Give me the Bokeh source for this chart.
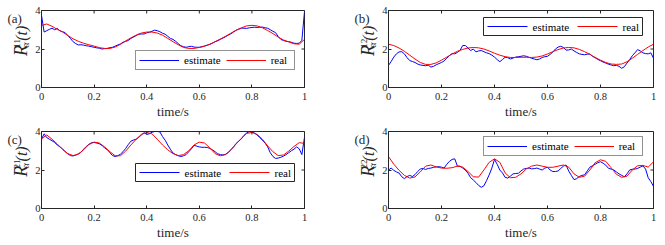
import math
from bokeh.plotting import figure
from bokeh.models import Range1d, FixedTicker, Legend, LegendItem
from bokeh.core.properties import value
from bokeh.layouts import column, row
from bokeh.embed import file_html
from bokeh.resources import INLINE

# ---------------- data ----------------
t_est = [round(i * 0.01, 2) for i in range(101)]
t_real = [round(i * 0.02, 2) for i in range(51)]

x_ticks = [0, 0.2, 0.4, 0.6, 0.8, 1]
x_tick_labels = {0: "0", 0.2: "0.2", 0.4: "0.4", 0.6: "0.6", 0.8: "0.8", 1: "1"}
y_ticks = [0, 2, 4]

est_11 = [3.75, 2.88, 2.95, 3.02, 3.08, 3.0, 3.07, 2.95, 2.9, 2.85,
          2.7, 2.55, 2.38, 2.28, 2.21, 2.22, 2.2, 2.17, 2.15, 2.12,
          2.09, 2.06, 2.04, 2.0, 2.02, 2.03, 2.07, 2.09, 2.15, 2.21,
          2.26, 2.35, 2.4, 2.44, 2.55, 2.62, 2.7, 2.77, 2.78, 2.78,
          2.84, 2.87, 2.92, 2.98, 2.95, 2.9, 2.82, 2.77, 2.66, 2.55,
          2.5, 2.4, 2.28, 2.17, 2.12, 2.09, 2.12, 2.14, 2.1, 2.09,
          2.09, 2.12, 2.16, 2.2, 2.24, 2.3, 2.38, 2.43, 2.5, 2.57,
          2.64, 2.72, 2.79, 2.88, 2.97, 3.03, 3.08, 3.08, 3.07, 3.1,
          3.12, 3.13, 3.12, 3.13, 3.14, 3.1, 3.08, 3.0, 2.92, 2.85,
          2.65, 2.5, 2.44, 2.4, 2.38, 2.35, 2.3, 2.29, 2.3, 2.45,
          3.95]
real_11 = [3.22, 3.3, 3.18, 3.02, 2.88, 2.7, 2.53, 2.4, 2.3, 2.22,
           2.15, 2.07, 2.03, 2.03, 2.1, 2.24, 2.42, 2.58, 2.72, 2.83,
           2.88, 2.88, 2.83, 2.72, 2.55, 2.38, 2.22, 2.08, 2.03, 2.03,
           2.08, 2.14, 2.25, 2.38, 2.52, 2.66, 2.82, 2.98, 3.1, 3.2,
           3.23, 3.2, 3.1, 2.96, 2.8, 2.62, 2.47, 2.37, 2.27, 2.25,
           2.5]

est_12 = [1.15, 1.35, 1.58, 1.75, 1.85, 1.86, 1.75, 1.55, 1.4, 1.35,
          1.3, 1.22, 1.17, 1.15, 1.13, 1.16, 1.06, 1.1, 1.18, 1.24,
          1.3, 1.38, 1.52, 1.66, 1.76, 1.75, 1.82, 1.93, 2.18, 2.18,
          2.05, 1.92, 2.0, 1.85, 1.9, 1.92, 1.86, 1.8, 1.76, 1.68,
          1.58, 1.45, 1.34, 1.45, 1.57, 1.55, 1.48, 1.53, 1.58, 1.6,
          1.62, 1.65, 1.62, 1.57, 1.52, 1.48, 1.44, 1.48, 1.56, 1.6,
          1.62, 1.72, 1.84, 2.0, 2.1, 2.14, 2.08, 1.94, 1.95, 2.0,
          1.9, 1.82, 1.75, 1.72, 1.7, 1.73, 1.74, 1.62, 1.54, 1.46,
          1.39, 1.32, 1.27, 1.21, 1.17, 1.13, 1.15, 1.1, 1.0, 1.08,
          1.27, 1.45, 1.65, 1.8, 1.97, 1.9, 1.8, 1.76, 1.75, 1.8,
          1.52]
real_12 = [2.25, 2.18, 2.05, 1.88, 1.68, 1.48, 1.3, 1.2, 1.2, 1.28,
           1.42, 1.58, 1.74, 1.88, 1.98, 2.05, 2.08, 2.06, 2.0, 1.9,
           1.78, 1.68, 1.6, 1.56, 1.56, 1.57, 1.57, 1.56, 1.58, 1.64,
           1.74, 1.86, 1.97, 2.05, 2.08, 2.06, 1.98, 1.86, 1.72, 1.56,
           1.42, 1.3, 1.22, 1.2, 1.22, 1.34, 1.52, 1.72, 1.92, 2.1,
           2.25]

est_21 = [3.6, 3.88, 3.68, 3.6, 3.52, 3.43, 3.3, 3.2, 3.1, 2.95,
          2.84, 2.75, 2.73, 2.77, 2.84, 2.92, 3.08, 3.22, 3.33, 3.42,
          3.43, 3.4, 3.36, 3.28, 3.14, 3.06, 2.9, 2.75, 2.7, 2.74,
          2.82, 2.95, 3.12, 3.32, 3.5, 3.56, 3.6, 3.7, 3.82, 3.94,
          3.85, 3.88, 3.96, 4.0, 4.0, 3.98, 3.74, 3.55, 3.3, 3.08,
          2.88, 2.8, 2.74, 2.7, 2.74, 2.8, 2.95, 3.1, 3.28, 3.24,
          3.2, 3.18, 3.18, 3.17, 3.12, 3.05, 2.95, 2.84, 2.8, 2.78,
          2.82, 2.9, 3.05, 3.2, 3.38, 3.5, 3.62, 3.8, 3.92, 4.0,
          3.97, 3.92, 3.82, 3.68, 3.55, 3.4, 3.2, 2.9, 2.7, 2.6,
          2.62, 2.66, 2.72, 2.8, 2.9, 3.0, 3.08, 3.2, 3.1, 2.8,
          3.7]
real_21 = [3.62, 3.82, 3.6, 3.35, 3.07, 2.85, 2.75, 2.82, 3.05, 3.32,
           3.45, 3.4, 3.2, 2.95, 2.74, 2.74, 2.98, 3.3, 3.6, 3.85,
           3.95, 3.88, 3.6, 3.3, 3.05, 2.85, 2.75, 2.8, 3.0, 3.3,
           3.45, 3.4, 3.15, 2.85, 2.74, 2.8, 3.05, 3.35, 3.65, 3.9,
           3.95, 3.85, 3.6, 3.25, 2.95, 2.75, 2.78, 2.98, 3.22, 3.42,
           3.38]

est_22 = [2.0, 2.1, 1.98, 1.9, 1.84, 1.65, 1.55, 1.66, 1.72, 1.66,
          1.76, 1.92, 2.05, 2.08, 2.03, 2.08, 2.1, 2.14, 2.16, 2.17,
          2.15, 2.1, 2.3, 2.45, 2.55, 2.58, 2.2, 2.2, 2.1, 2.0,
          1.83, 1.6, 1.48, 1.35, 1.2, 1.1, 1.18, 1.45, 1.75, 2.1,
          2.55, 2.3, 2.0, 1.85, 1.62, 1.58, 1.68, 1.8, 1.82, 1.83,
          1.95, 2.05, 2.08, 2.1, 2.06, 2.07, 2.1, 2.05, 2.0, 2.1,
          2.14, 2.0, 1.92, 1.92, 1.95, 2.08, 2.2, 2.26, 1.95, 1.72,
          1.5, 1.55, 1.66, 1.72, 1.75, 1.95, 2.15, 2.22, 2.3, 2.38,
          2.43, 2.35, 2.25, 2.09, 2.05, 2.0, 1.9, 1.8, 1.72, 1.65,
          1.8, 2.0, 2.04, 2.05, 2.08, 2.15, 2.21, 2.05, 1.6, 1.4,
          1.15]
real_22 = [2.7, 2.3, 1.98, 1.72, 1.58, 1.64, 1.9, 2.2, 2.26, 2.16,
           2.1, 2.09, 2.12, 2.2, 2.15, 1.92, 1.65, 1.63, 2.0, 2.4,
           2.58, 2.4, 1.85, 1.6, 1.62, 1.8, 2.05, 2.2, 2.26, 2.2,
           2.14, 2.14, 2.2, 2.26, 2.15, 1.8, 1.62, 1.68, 2.0, 2.38,
           2.53, 2.45, 2.12, 1.78, 1.62, 1.68, 2.0, 2.22, 2.24, 2.15,
           2.42]

legend_labels = ["estimate", "real"]
panel_tags = ["(a)", "(b)", "(c)", "(d)"]
panel_sups = ["11", "12", "21", "22"]

FONT = "Liberation Serif"
INK = "#262626"
BLUE = "#0000ff"
RED = "#ff0000"
FRAME_H = 77
LEFT_B = 7   # panel left border (y tick labels)
NAN = float("nan")


def make_panel(est, real, leg_loc, fw, right, top, bottom, bokeh_legend):
    p = figure(frame_width=fw, frame_height=FRAME_H,
               x_range=Range1d(0, 1), y_range=Range1d(0, 4),
               output_backend="svg", toolbar_location=None,
               min_border_left=LEFT_B, min_border_right=right,
               min_border_top=top, min_border_bottom=bottom,
               background_fill_color="white", border_fill_color="white",
               outline_line_color=INK, outline_line_width=1)
    p.grid.visible = False
    xr, yr = p.x_range, p.y_range

    if bokeh_legend:
        r_est = p.line(t_est, est, line_color=BLUE, line_width=1.0)
        r_real = p.line(t_real, real, line_color=RED, line_width=1.0)
        legend = Legend(items=[LegendItem(label=legend_labels[0], renderers=[r_est]),
                               LegendItem(label=legend_labels[1], renderers=[r_real])],
                        location=leg_loc, orientation="horizontal",
                        glyph_width=40, glyph_height=12, label_height=12,
                        label_standoff=5, spacing=5, padding=3, margin=0,
                        border_line_color=INK, border_line_width=1,
                        background_fill_color="white", background_fill_alpha=1,
                        label_text_font=FONT, label_text_font_size="11px",
                        label_text_color="black")
        p.add_layout(legend)
    else:
        # legend geometry: pixel offsets from the frame's bottom-left corner
        kx = (xr.end - xr.start) / fw
        ky = (yr.end - yr.start) / FRAME_H

        def X(px):
            return xr.start + (leg_loc[0] + px) * kx

        def Y(py):
            return yr.start + (leg_loc[1] + py) * ky

        W, H, mid = 159, 18, 9
        sw = [(4, legend_labels[0]), (94, legend_labels[1])]
        # each series and its legend swatch share one renderer (NaN break between)
        p.line(t_est + [NAN, X(sw[0][0]), X(sw[0][0] + 40)],
               est + [NAN, Y(mid), Y(mid)], line_color=BLUE, line_width=1.0)
        p.line(t_real + [NAN, X(sw[1][0]), X(sw[1][0] + 40)],
               real + [NAN, Y(mid), Y(mid)], line_color=RED, line_width=1.0)
        p.line(x=[X(0), X(W), X(W), X(0), X(0)], y=[Y(0), Y(0), Y(H), Y(H), Y(0)],
               line_color=INK, line_width=1, line_join="miter")
        for x0, lab in sw:
            p.text(x=[X(x0 + 45)], y=[Y(mid)], text=[lab],
                   text_font=value(FONT), text_font_size=value("11px"),
                   text_baseline=value("middle"), text_align=value("left"),
                   text_color="black")

    # tick marks on the top and right edges of the box (MATLAB "box on")
    dy = 3 * (yr.end - yr.start) / FRAME_H
    dx = 3 * (xr.end - xr.start) / fw
    p.segment(x0=x_ticks, y0=[yr.end] * len(x_ticks), x1=x_ticks,
              y1=[yr.end - dy] * len(x_ticks), line_color=INK, line_width=1)
    p.segment(x0=[xr.end] * len(y_ticks), y0=y_ticks, x1=[xr.end - dx] * len(y_ticks),
              y1=y_ticks, line_color=INK, line_width=1)

    xa = p.xaxis[0]
    ya = p.yaxis[0]
    xa.ticker = FixedTicker(ticks=x_ticks)
    xa.major_label_overrides = x_tick_labels
    ya.ticker = FixedTicker(ticks=y_ticks)
    for ax in (xa, ya):
        ax.major_tick_in = 3
        ax.major_tick_out = 0
        ax.minor_tick_line_color = None
        ax.axis_line_color = INK
        ax.major_tick_line_color = INK
        ax.major_label_text_font = FONT
        ax.major_label_text_font_size = "10.5px"
        ax.major_label_text_color = INK
    xa.major_label_standoff = 5
    ya.major_label_standoff = 1
    xa.axis_label = "time/s"
    xa.axis_label_text_font = FONT
    xa.axis_label_text_font_size = "13px"
    xa.axis_label_text_font_style = "normal"
    xa.axis_label_text_color = INK
    xa.axis_label_standoff = 1
    return p


def make_label_col(width, height, fx, fb, tag, sup):
    """Narrow strip left of a panel holding the rotated y label and the panel tag.
    fx, fb: position of the neighbouring frame's left edge / bottom edge in strip pixels."""
    q = figure(width=width, height=height, x_range=Range1d(0, width),
               y_range=Range1d(0, height), output_backend="svg",
               toolbar_location=None, min_border=0,
               x_axis_location=None, y_axis_location=None,
               outline_line_color=None, background_fill_color="white",
               border_fill_color="white")
    q.grid.visible = False

    def put(dx, dy, txt, size, italic=False, angle=math.pi / 2,
            baseline="middle"):
        q.text(x=[fx + dx], y=[fb + dy], text=[txt], angle=angle,
               text_font=value(FONT), text_font_size=value(size),
               text_font_style=value("italic" if italic else "normal"),
               text_align=value("left"), text_baseline=value(baseline),
               text_color=INK)

    put(-18.4, 15, "R", "18px", italic=True)
    put(-14.0, 28, "α", "10px", italic=True)
    put(-22.7, 28, sup, "9px")
    put(-17.8, 39, "(t)", "16px", italic=True)
    put(-32, 74, tag, "13px", angle=0)
    return q


# layout geometry (page pixels)
TOP_H = 10 + FRAME_H + 35
BOT_H = 9 + FRAME_H + 35
LAB_A_W, LAB_B_W = 32, 65

pa = make_panel(est_11, real_11, (94, 17), 263, 10, 10, 35, True)
pb = make_panel(est_12, real_12, (95, 52), 265, 8, 10, 35, False)
pc = make_panel(est_21, real_21, (94, 27), 263, 10, 9, 35, False)
pd = make_panel(est_22, real_22, (95, 52), 265, 8, 9, 35, True)

la = make_label_col(LAB_A_W, TOP_H, LAB_A_W + LEFT_B, 35, panel_tags[0], panel_sups[0])
lb = make_label_col(LAB_B_W, TOP_H, LAB_B_W + LEFT_B, 35, panel_tags[1], panel_sups[1])
lc = make_label_col(LAB_A_W, BOT_H, LAB_A_W + LEFT_B, 35, panel_tags[2], panel_sups[2])
ld = make_label_col(LAB_B_W, BOT_H, LAB_B_W + LEFT_B, 35, panel_tags[3], panel_sups[3])

layout = column(row(la, pa, lb, pb), row(lc, pc, ld, pd))

open("out.html", "w").write(file_html(layout, INLINE))
